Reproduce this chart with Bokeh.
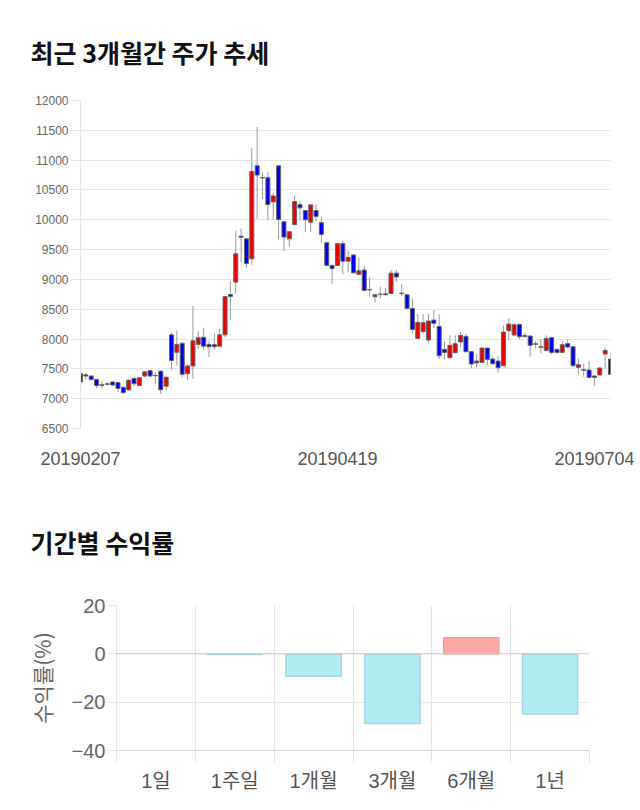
from bokeh.plotting import figure
from bokeh.layouts import column
from bokeh.models import ColumnDataSource, Range1d, FixedTicker, Span
from bokeh.embed import file_html
from bokeh.resources import INLINE

# ---------------- data: 3-month daily candles ----------------
opens = [7280, 7400, 7380, 7320, 7220, 7240, 7280, 7270, 7190, 7150,
         7340, 7220, 7380, 7470, 7390, 7460, 7210, 8070, 7780, 7930,
         7420, 7550, 7910, 8030, 7910, 7905, 7880, 8070, 8745, 8955,
         9725, 9680, 9345, 10905, 10710, 10705, 10300, 10905, 9965, 9680,
         9920, 10255, 10155, 9960, 10155, 9950, 9615, 9235, 9235, 9600,
         9305, 9410, 9085, 9157, 8830, 8710, 8752, 8743, 8765, 9105,
         8770, 8743, 8514, 8011, 8128, 7983, 8318, 8212, 7827, 7687,
         7771, 7950, 8045, 7788, 7598, 7609, 7849, 7665, 7631, 7553,
         8140, 8067, 8245, 8039, 8050, 7920, 7860, 7810, 8022, 7827,
         7776, 7922, 7871, 7525, 7485, 7480, 7380, 7397, 7749, 7665]
highs = [7475, 7440, 7390, 7330, 7300, 7280, 7300, 7280, 7200, 7320,
         7360, 7360, 7470, 7490, 7440, 7475, 7370, 8100, 8145, 7940,
         7575, 8560, 8130, 8190, 7970, 8100, 8170, 8720, 8970, 9820,
         9850, 9690, 11210, 11555, 10800, 10800, 10450, 10910, 9970, 9810,
         10410, 10310, 10160, 10255, 10260, 10056, 9640, 9250, 9610, 9645,
         9486, 9420, 9363, 9224, 9028, 8760, 8883, 8855, 9160, 9160,
         8922, 8750, 8682, 8419, 8419, 8419, 8486, 8419, 7966, 8061,
         8061, 8123, 8084, 7795, 7749, 7860, 7855, 7700, 7709, 8229,
         8346, 8262, 8260, 8106, 8061, 7966, 8000, 8061, 8039, 7840,
         7961, 7994, 7880, 7670, 7592, 7631, 7390, 7525, 7860, 7771]
lows = [7270, 7320, 7300, 7180, 7180, 7220, 7210, 7110, 7080, 7130,
        7210, 7210, 7360, 7360, 7250, 7070, 7140, 7490, 7560, 7360,
        7310, 7330, 7840, 7810, 7700, 7820, 7870, 8030, 8320, 8760,
        9290, 9190, 9246, 10015, 10350, 9990, 10000, 9670, 9475, 9550,
        9900, 9990, 9795, 9795, 9975, 9610, 9230, 8930, 9230, 9080,
        9123, 9100, 9080, 8800, 8704, 8609, 8676, 8730, 8750, 8955,
        8720, 8500, 8095, 8000, 8100, 7938, 8179, 7665, 7659, 7670,
        7760, 7860, 7780, 7508, 7525, 7600, 7564, 7570, 7441, 7550,
        7983, 8060, 8000, 8030, 7704, 7843, 7760, 7800, 7743, 7743,
        7770, 7850, 7540, 7408, 7369, 7340, 7218, 7390, 7508, 7400]
closes = [7420, 7380, 7320, 7220, 7235, 7250, 7230, 7170, 7100, 7310,
          7250, 7350, 7450, 7380, 7385, 7150, 7360, 7640, 7910, 7410,
          7550, 7970, 8020, 7880, 7870, 7870, 8070, 8710, 8715, 9430,
          9705, 9265, 10810, 10750, 10700, 10255, 10400, 10005, 9710, 9800,
          10305, 10200, 10000, 10250, 10055, 9755, 9235, 9180, 9600, 9305,
          9370, 9110, 9145, 8816, 8825, 8743, 8748, 8760, 9105, 9040,
          8760, 8514, 8162, 8279, 8274, 8302, 8263, 7720, 7776, 7894,
          7922, 8061, 7788, 7581, 7631, 7849, 7659, 7587, 7519, 8117,
          8251, 8240, 8039, 8061, 7894, 7912, 7871, 8011, 7776, 7776,
          7905, 7866, 7553, 7570, 7478, 7357, 7357, 7514, 7810, 7408]
date_ticks = [0, 48, 96]
date_labels = ["20190207", "20190419", "20190704"]
price_ticks = list(range(6500, 12001, 500))

# ---------------- data: period returns ----------------
periods = ["1일", "1주일", "1개월", "3개월", "6개월", "1년"]
returns = [0.0, -0.3, -9.3, -28.8, 6.7, -24.9]
return_ticks = [-40, -20, 0, 20]

# ================= candle chart =================
n = len(opens)
idx = list(range(n))
up = [c >= o for o, c in zip(opens, closes)]
src = ColumnDataSource(dict(
    i=idx, high=highs, low=lows,
    top=[max(o, c) for o, c in zip(opens, closes)],
    bottom=[min(o, c) for o, c in zip(opens, closes)],
    color=["#ee0000" if u else "#0000ee" for u in up],
))

p = figure(width=640, height=470, x_range=Range1d(0, n - 1), y_range=Range1d(6500, 12000),
           output_backend="svg", toolbar_location=None,
           min_border_left=80, min_border_right=30, min_border_top=100, min_border_bottom=42)
p.frame_align = False
p.title.text = "최근 3개월간 주가 추세"
p.title.align = "left"
p.title.offset = -50
p.title.standoff = 62
p.title.text_font = "Noto Sans CJK KR"
p.title.text_font_size = "25px"
p.title.text_font_style = "bold"
p.title.text_color = "#111111"
p.outline_line_color = None
p.background_fill_color = "white"

p.xgrid.visible = False
p.ygrid.ticker = FixedTicker(ticks=price_ticks)
p.ygrid.grid_line_color = "#e6e6e6"

p.yaxis.ticker = FixedTicker(ticks=price_ticks)
p.yaxis.axis_line_color = "#e6e6e6"
p.yaxis.major_tick_line_color = "#e6e6e6"
p.yaxis.major_tick_out = 10
p.yaxis.major_tick_in = 0
p.yaxis.minor_tick_line_color = None
p.yaxis.major_label_text_font = "Liberation Sans"
p.yaxis.major_label_text_font_size = "12px"
p.yaxis.major_label_text_color = "#666666"
p.yaxis.major_label_standoff = 2

p.xaxis.ticker = FixedTicker(ticks=date_ticks)
p.xaxis.major_label_overrides = {t: l for t, l in zip(date_ticks, date_labels)}
p.xaxis.axis_line_color = None
p.xaxis.major_tick_line_color = None
p.xaxis.minor_tick_line_color = None
p.xaxis.major_label_text_font = "Liberation Sans"
p.xaxis.major_label_text_font_size = "18px"
p.xaxis.major_label_text_color = "#555555"
p.xaxis.major_label_standoff = 17

p.segment(x0="i", y0="high", x1="i", y1="low", source=src, line_color="#9a9a9a", line_width=1)
p.vbar(x="i", width=0.75, top="top", bottom="bottom", source=src,
       fill_color="color", line_color="#666666", line_width=1)

# ================= returns bar chart =================
m = len(periods)
centers = [k + 0.5 for k in range(m)]
bounds = list(range(m + 1))
bsrc = ColumnDataSource(dict(
    x=centers, ret=returns,
    fill=["#ffa8a8" if r > 0 else "#b3ebf2" for r in returns],
    line=[None if r == 0 else ("#f09a9a" if r > 0 else "#9fd8e2") for r in returns],
))

p2 = figure(width=640, height=340, x_range=Range1d(0, m), y_range=Range1d(-40, 20),
            output_backend="svg", toolbar_location=None,
            min_border_left=116, min_border_right=51, min_border_top=135, min_border_bottom=60)
p2.frame_align = False
p2.title.text = "기간별 수익률"
p2.title.align = "left"
p2.title.offset = -86
p2.title.standoff = 92
p2.title.text_font = "Noto Sans CJK KR"
p2.title.text_font_size = "25px"
p2.title.text_font_style = "bold"
p2.title.text_color = "#111111"
p2.outline_line_color = None

p2.xgrid.ticker = FixedTicker(ticks=bounds)
p2.xgrid.grid_line_color = "#e6e6e6"
p2.ygrid.ticker = FixedTicker(ticks=return_ticks)
p2.ygrid.grid_line_color = "#e6e6e6"

p2.yaxis.ticker = FixedTicker(ticks=return_ticks)
p2.yaxis.axis_line_color = "#e6e6e6"
p2.yaxis.major_tick_line_color = "#e6e6e6"
p2.yaxis.major_tick_out = 8
p2.yaxis.major_tick_in = 0
p2.yaxis.minor_tick_line_color = None
p2.yaxis.major_label_text_font = "Liberation Sans"
p2.yaxis.major_label_text_font_size = "20px"
p2.yaxis.major_label_text_color = "#666666"
p2.yaxis.major_label_standoff = 3
p2.yaxis.axis_label = "수익률(%)"
p2.yaxis.axis_label_text_font = "Noto Sans CJK KR"
p2.yaxis.axis_label_text_font_size = "21px"
p2.yaxis.axis_label_text_font_style = "normal"
p2.yaxis.axis_label_text_color = "#666666"
p2.yaxis.axis_label_standoff = 12

p2.xaxis.ticker = FixedTicker(ticks=centers, minor_ticks=bounds)
p2.xaxis.major_label_overrides = {c: lab for c, lab in zip(centers, periods)}
p2.xaxis.axis_line_color = "#d9d9d9"
p2.xaxis.major_tick_line_color = None
p2.xaxis.minor_tick_line_color = "#e6e6e6"
p2.xaxis.minor_tick_out = 12
p2.xaxis.minor_tick_in = 0
p2.xaxis.major_label_text_font = "'Liberation Sans', 'Noto Sans CJK KR'"
p2.xaxis.major_label_text_font_size = "20px"
p2.xaxis.major_label_text_color = "#555555"
p2.xaxis.major_label_standoff = 7

p2.add_layout(Span(location=0, dimension="width", line_color="#cccccc", line_width=1))
p2.vbar(x="x", width=0.7, top="ret", bottom=0, source=bsrc,
        fill_color="fill", line_color="line", line_width=1.5)

layout = column(p, p2)
open("out.html", "w").write(file_html(layout, INLINE))
